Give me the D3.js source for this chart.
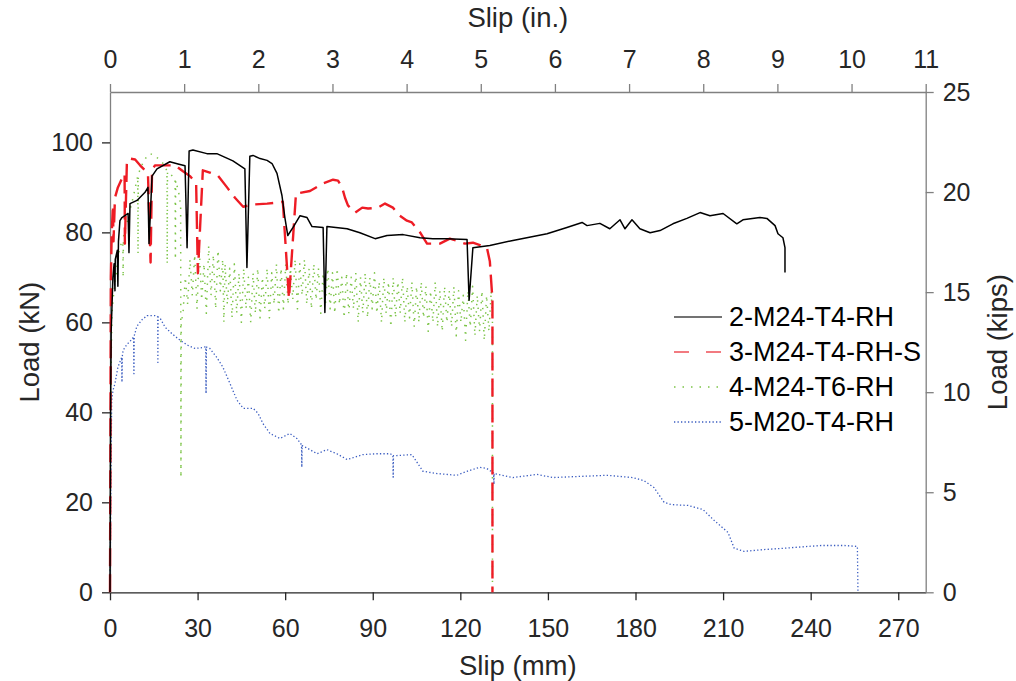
<!DOCTYPE html>
<html><head><meta charset="utf-8">
<script src="https://cdn.jsdelivr.net/npm/d3@7"></script>
<style>
html,body{margin:0;padding:0;background:#fff;}
svg{display:block;font-family:"Liberation Sans",Arial,Helvetica,sans-serif;}
</style></head>
<body><svg id="chart" width="1016" height="681"></svg>
<script>
// ---- data (slip in mm, load in kN) ----
const seriesNames = ["2-M24-T4-RH","3-M24-T4-RH-S","4-M24-T6-RH","5-M20-T4-RH"];
const xTicksMm = [0,30,60,90,120,150,180,210,240,270];
const xTicksIn = [0,1,2,3,4,5,6,7,8,9,10,11];
const yTicksKN = [0,20,40,60,80,100];
const yTicksKips = [0,5,10,15,20,25];

const s2 = [[0,0],[0.2,40],[0.4,58],[0.8,66],[1.0,70],[1.4,73],[1.7,67],[1.8,74],[2.5,76],[2.7,68],[2.9,78],
[3.4,82.6],[4.1,83.3],[6.2,84.2],[6.5,75.5],[6.85,86.4],[9.25,87.1],[12.0,88.9],[13.0,90.0],[13.36,77.5],[14.4,92.5],
[16.1,94.1],[20.5,95.7],[23.3,95.2],[25.7,94.8],[26.4,76.6],[27.1,98.1],[28.4,98.3],[33.2,97.5],[36.6,97.5],[42.1,95.9],
[46.2,94.1],[46.9,72.2],[47.9,96.9],[49.0,97.1],[51.4,96.4],[53.8,96.0],[55.5,95.3],[57.2,93.1],[58.9,88.2],[59.9,83.3],
[60.9,79.3],[62.7,81.1],[65.1,83.7],[67.5,83.3],[69.2,81.3],[73.0,81.1],[73.6,62.2],[74.3,81.3],[81.2,80.8],[85.6,79.9],
[90.8,78.6],[94.9,79.3],[100.4,79.5],[106.2,78.8],[110.6,78.6],[115.4,78.6],[122.3,78.4],[123.0,64.9],[124.3,76.6],
[130.1,77.1],[138.0,78.2],[149.7,79.7],[156.5,81.1],[161.7,82.2],[163.4,81.5],[167.8,82.0],[171.2,80.8],[174.7,82.8],
[176.4,80.8],[178.8,82.8],[181.5,80.8],[185.0,79.9],[188.4,80.4],[192.8,81.9],[197.6,83.1],[202.1,84.4],[205.5,83.7],
[210.0,84.2],[214.7,81.9],[216.8,82.8],[222.6,83.3],[225.0,83.1],[227.8,81.5],[228.8,79.7],[230.5,78.8],[231.2,76.6],[231.2,71.1]];

const s3 = [[0,0],[0.3,70],[0.6,80],[1.0,86],[1.2,78],[1.7,87.7],[2.7,90],[4.4,92.4],[5.0,93],[5.1,77.5],[5.8,96.0],
[6.8,96.4],[8.6,96.2],[10.3,94.9],[13.0,93.1],[13.9,73.3],[14.4,93.8],[15.4,94.9],[18.2,94.9],[22.3,94.9],[25.0,93.6],
[27.4,92.5],[29.5,91],[30.1,70.9],[31.8,93.8],[34.2,93.3],[37.0,92.6],[40.1,90],[42.8,87.7],[45.6,85.7],[49.0,86.2],
[53.8,86.4],[57.2,86.6],[59.2,86.8],[61.3,65.3],[63.7,88.6],[68.5,89.2],[73.0,90.9],[76.4,91.7],[78.1,91.5],[79.5,90.0],
[80.5,87.7],[81.5,86.0],[84.0,84.4],[86.4,85.5],[88.4,85.3],[91.8,85.5],[94.2,86.4],[96.9,85.5],[99.3,83.7],[101.7,82.6],
[103.4,82.2],[106.2,80.0],[108.6,77.5],[113.0,77.5],[116.4,78.6],[117.5,78.4],[121.6,77.5],[124.3,77.7],[129.1,76.6],
[130.1,73.6],[131.0,65],[131.0,0]];

const s4 = [[0,0],[0.2,30],[0.4,52],[0.7,62],[1.2,66],[2.0,70],[2.7,74.5],[3.5,77],[4.4,78],[4.5,70],[4.6,79],[5.1,80.4],
[6.5,84],[7.9,87.7],[9.0,91],[9.5,92.5],[9.6,75.2],[9.7,93],[11.3,95.5],[12.5,96.8],[13.7,97.5],[15.4,97.1],[17.1,96.0],
[18.2,95.3],[19.5,93.7],[19.6,73],[19.7,93.5],[22.3,92],[22.4,74],[22.5,91.5],[23.5,89],[24.2,86],[24.3,25.5],[24.4,60],
[25.0,62],[25.8,70],[26.6,64],[27.4,74],[28.2,66],[29.0,75],[29.8,63],[30.6,76],[31.4,65],[32.2,73],[33.0,62],[33.8,77],
[34.6,66],[35.4,75],[36.2,63],[37.0,76],[37.8,67],[38.6,74],[39.0,60],[39.4,73],[40.2,64],[41.0,72],[41.8,61],[42.6,73],
[43.4,62],[44.2,71],[45.0,60],[45.8,72],[46.6,63],[47.4,70],[48.2,60],[49.0,71],[49.8,62],[50.6,72],[51.4,61],[52.2,70],
[53.0,63],[53.8,72],[54.6,61],[55.4,71],[56.2,64],[57.0,73],[57.8,62],[58.6,72],[59.4,63],[60.2,73],[61.0,64],[61.8,72],
[62.6,65],[63.4,74],[64.2,63],[65.0,73],[65.8,66],[66.6,74],[67.4,64],[68.2,72],[69.0,63],[69.8,73],[70.6,65],[71.4,72],
[72.2,62],[73.0,71],[73.8,64],[74.6,72],[75.4,63],[76.2,71],[77.0,62],[77.8,72],[78.6,64],[79.4,70],[80.2,61],[81.0,71],
[81.8,62],[82.6,70],[83.4,63],[84.2,71],[85.0,60],[85.8,70],[86.6,62],[87.4,71],[88.2,61],[89.0,70],[89.8,63],[90.6,71],
[91.4,62],[92.2,69],[93.0,60],[93.8,70],[94.6,62],[95.4,69],[96.2,59],[97.0,70],[97.8,61],[98.6,69],[99.4,62],[100.2,70],
[101.0,60],[101.8,68],[102.6,61],[103.4,69],[104.2,59],[105.0,68],[105.8,60],[106.6,69],[107.4,61],[108.2,68],[109.0,58],
[109.8,67],[110.6,60],[111.4,69],[112.2,59],[113.0,67],[113.8,58],[114.6,68],[115.4,60],[116.2,67],[117.0,59],[117.8,68],
[118.6,57],[119.4,67],[120.2,60],[121.0,66],[121.8,56],[122.6,67],[123.4,59],[124.2,68],[125.0,57],[125.8,66],[126.6,58],
[127.4,67],[128.2,56],[129.0,66],[129.8,58],[130.6,67],[131.0,60],[131.0,0]];

const s5 = [[0,0],[0.2,15],[0.3,25],[0.58,42.7],[1.03,44.9],[1.7,46.4],[2.7,50],[4.0,52.2],[4.1,46.7],[4.2,52.4],[4.5,53.8],
[5.8,55.1],[7.5,56.2],[8.1,56.8],[8.2,48.6],[8.3,57.0],[9.2,59.1],[11.0,60.6],[12.7,61.5],[15.4,61.5],[16.3,61.3],[16.4,51.1],
[16.5,61.2],[17.1,61.0],[18.9,58.9],[21.2,57.5],[24.0,56.0],[26.7,54.9],[29.1,54.2],[31.8,54.4],[32.8,54.6],[32.9,44.2],
[33.0,54.5],[34.2,54.2],[36.6,52.2],[38.7,50.0],[41.1,46.4],[43.5,42.7],[45.6,40.9],[49.0,40.9],[50.7,39.8],[52.4,37.5],
[54.8,35.3],[58.2,34.2],[61.6,35.3],[64.0,34.2],[65.6,32.8],[65.7,27.8],[65.8,32.6],[67.4,32.1],[70.9,30.8],[74.3,31.7],
[77.7,30.8],[81.2,29.5],[86.6,30.6],[91.5,30.8],[96.0,30.8],[96.9,30.4],[97.0,25.6],[97.1,30.4],[98.3,30.4],[103.4,30.6],
[107.2,26.9],[112.0,26.4],[118.8,26.0],[122.3,26.9],[126.7,27.8],[129.1,27.5],[131.4,26.5],[131.5,24.0],[131.6,26.4],
[138.0,25.5],[146.2,26.2],[151.7,25.5],[158.6,25.7],[170.2,26.0],[179.1,25.5],[182.9,24.8],[186.3,23.3],[189.8,20.0],
[192.2,19.5],[198.0,19.3],[203.1,18.4],[206.9,16.0],[211.7,13.3],[213.8,9.8],[217.2,9.1],[224.0,9.5],[230.9,9.8],
[239.1,10.2],[243.6,10.4],[251.5,10.4],[256.0,10.2],[256.2,0]];

// ---- layout ----
const svg = d3.select("#chart");
const L = 110, R = 925.7, T = 92, B = 592.3;
const textCol = "#262626", axisGray = "#808080";
const x = d3.scaleLinear().domain([0, 279.4]).range([L, R]);
const xIn = d3.scaleLinear().domain([0, 11]).range([L, R]);
const y = d3.scaleLinear().domain([0, 111.2]).range([B, T]);
const yK = d3.scaleLinear().domain([0, 25]).range([B, T]);

svg.append("defs").append("clipPath").attr("id","clip")
  .append("rect").attr("x",L-2).attr("y",T).attr("width",R-L+3).attr("height",B-T+1);

function styleAxis(g, lineCol){
  g.select(".domain").attr("stroke", lineCol).attr("stroke-width",1.3);
  g.selectAll(".tick line").attr("stroke", lineCol).attr("stroke-width",1.3);
  g.selectAll(".tick text").attr("fill", textCol).style("font-size","25px")
   .style("font-family","'Liberation Sans',Arial,sans-serif");
}
const gB = svg.append("g").attr("transform",`translate(0,${B})`)
  .call(d3.axisBottom(x).tickValues(xTicksMm).tickSize(8).tickSizeOuter(0).tickPadding(19));
styleAxis(gB, textCol);
const gT = svg.append("g").attr("transform",`translate(0,${T})`)
  .call(d3.axisTop(xIn).tickValues(xTicksIn).tickSize(8).tickSizeOuter(0).tickPadding(16));
styleAxis(gT, axisGray);
gT.selectAll(".tick text").attr("dy","0");
const gL = svg.append("g").attr("transform",`translate(${L},0)`)
  .call(d3.axisLeft(y).tickValues(yTicksKN).tickSize(8).tickSizeOuter(0).tickPadding(9));
styleAxis(gL, axisGray);
gL.selectAll(".tick line").attr("stroke", textCol);
const gR = svg.append("g").attr("transform",`translate(${R},0)`)
  .call(d3.axisRight(yK).tickValues(yTicksKips).tickSize(8).tickSizeOuter(0).tickPadding(9));
styleAxis(gR, axisGray);

// axis titles
const tfs = "27.5px";
svg.append("text").attr("x",(L+R)/2).attr("y",675).attr("text-anchor","middle")
  .attr("fill",textCol).style("font-size",tfs).text("Slip (mm)");
svg.append("text").attr("x",(L+R)/2).attr("y",27).attr("text-anchor","middle")
  .attr("fill",textCol).style("font-size",tfs).text("Slip (in.)");
svg.append("text").attr("transform",`translate(39,${(T+B)/2}) rotate(-90)`).attr("text-anchor","middle")
  .attr("fill",textCol).style("font-size",tfs).text("Load (kN)");
svg.append("text").attr("transform",`translate(1007,${(T+B)/2}) rotate(-90)`).attr("text-anchor","middle")
  .attr("fill",textCol).style("font-size",tfs).text("Load (kips)");

// ---- series ----
const line = d3.line().x(d => x(d[0])).y(d => y(d[1]));
const styles = [
  {data:s2, stroke:"#000000", w:1.5, dash:null, lgDash:null},
  {data:s3, stroke:"#ee1c25", w:2.4, dash:"18,8", lgDash:"15,17"},
  {data:s4, stroke:"#7cc447", w:1.5, dash:"1.4,6", lgDash:"1.5,7"},
  {data:s5, stroke:"#3a5cc0", w:1.3, dash:"1.3,2.2", lgDash:"1.3,2.2"}
];
const plot = svg.append("g").attr("clip-path","url(#clip)");
[2,3,1,0].forEach(i => {
  const s = styles[i];
  plot.append("path").datum(s.data).attr("d", line).attr("fill","none")
    .attr("stroke", s.stroke).attr("stroke-width", s.w)
    .attr("stroke-dasharray", s.dash).attr("stroke-linejoin","round");
});

// ---- legend ----
const lg = svg.append("g");
const rowsY = [317, 352, 387, 422];
seriesNames.forEach((name, i) => {
  const s = styles[i];
  lg.append("line").attr("x1",674).attr("x2",722).attr("y1",rowsY[i]).attr("y2",rowsY[i])
    .attr("stroke", i===0 ? "#444" : (i===1 ? "#f27a80" : s.stroke)).attr("stroke-width", i===1?2:s.w)
    .attr("stroke-dasharray", s.lgDash);
  lg.append("text").attr("x",729).attr("y",rowsY[i]).attr("dy","0.35em")
    .attr("fill","#000").style("font-size","27px").text(name);
});
</script></body></html>
